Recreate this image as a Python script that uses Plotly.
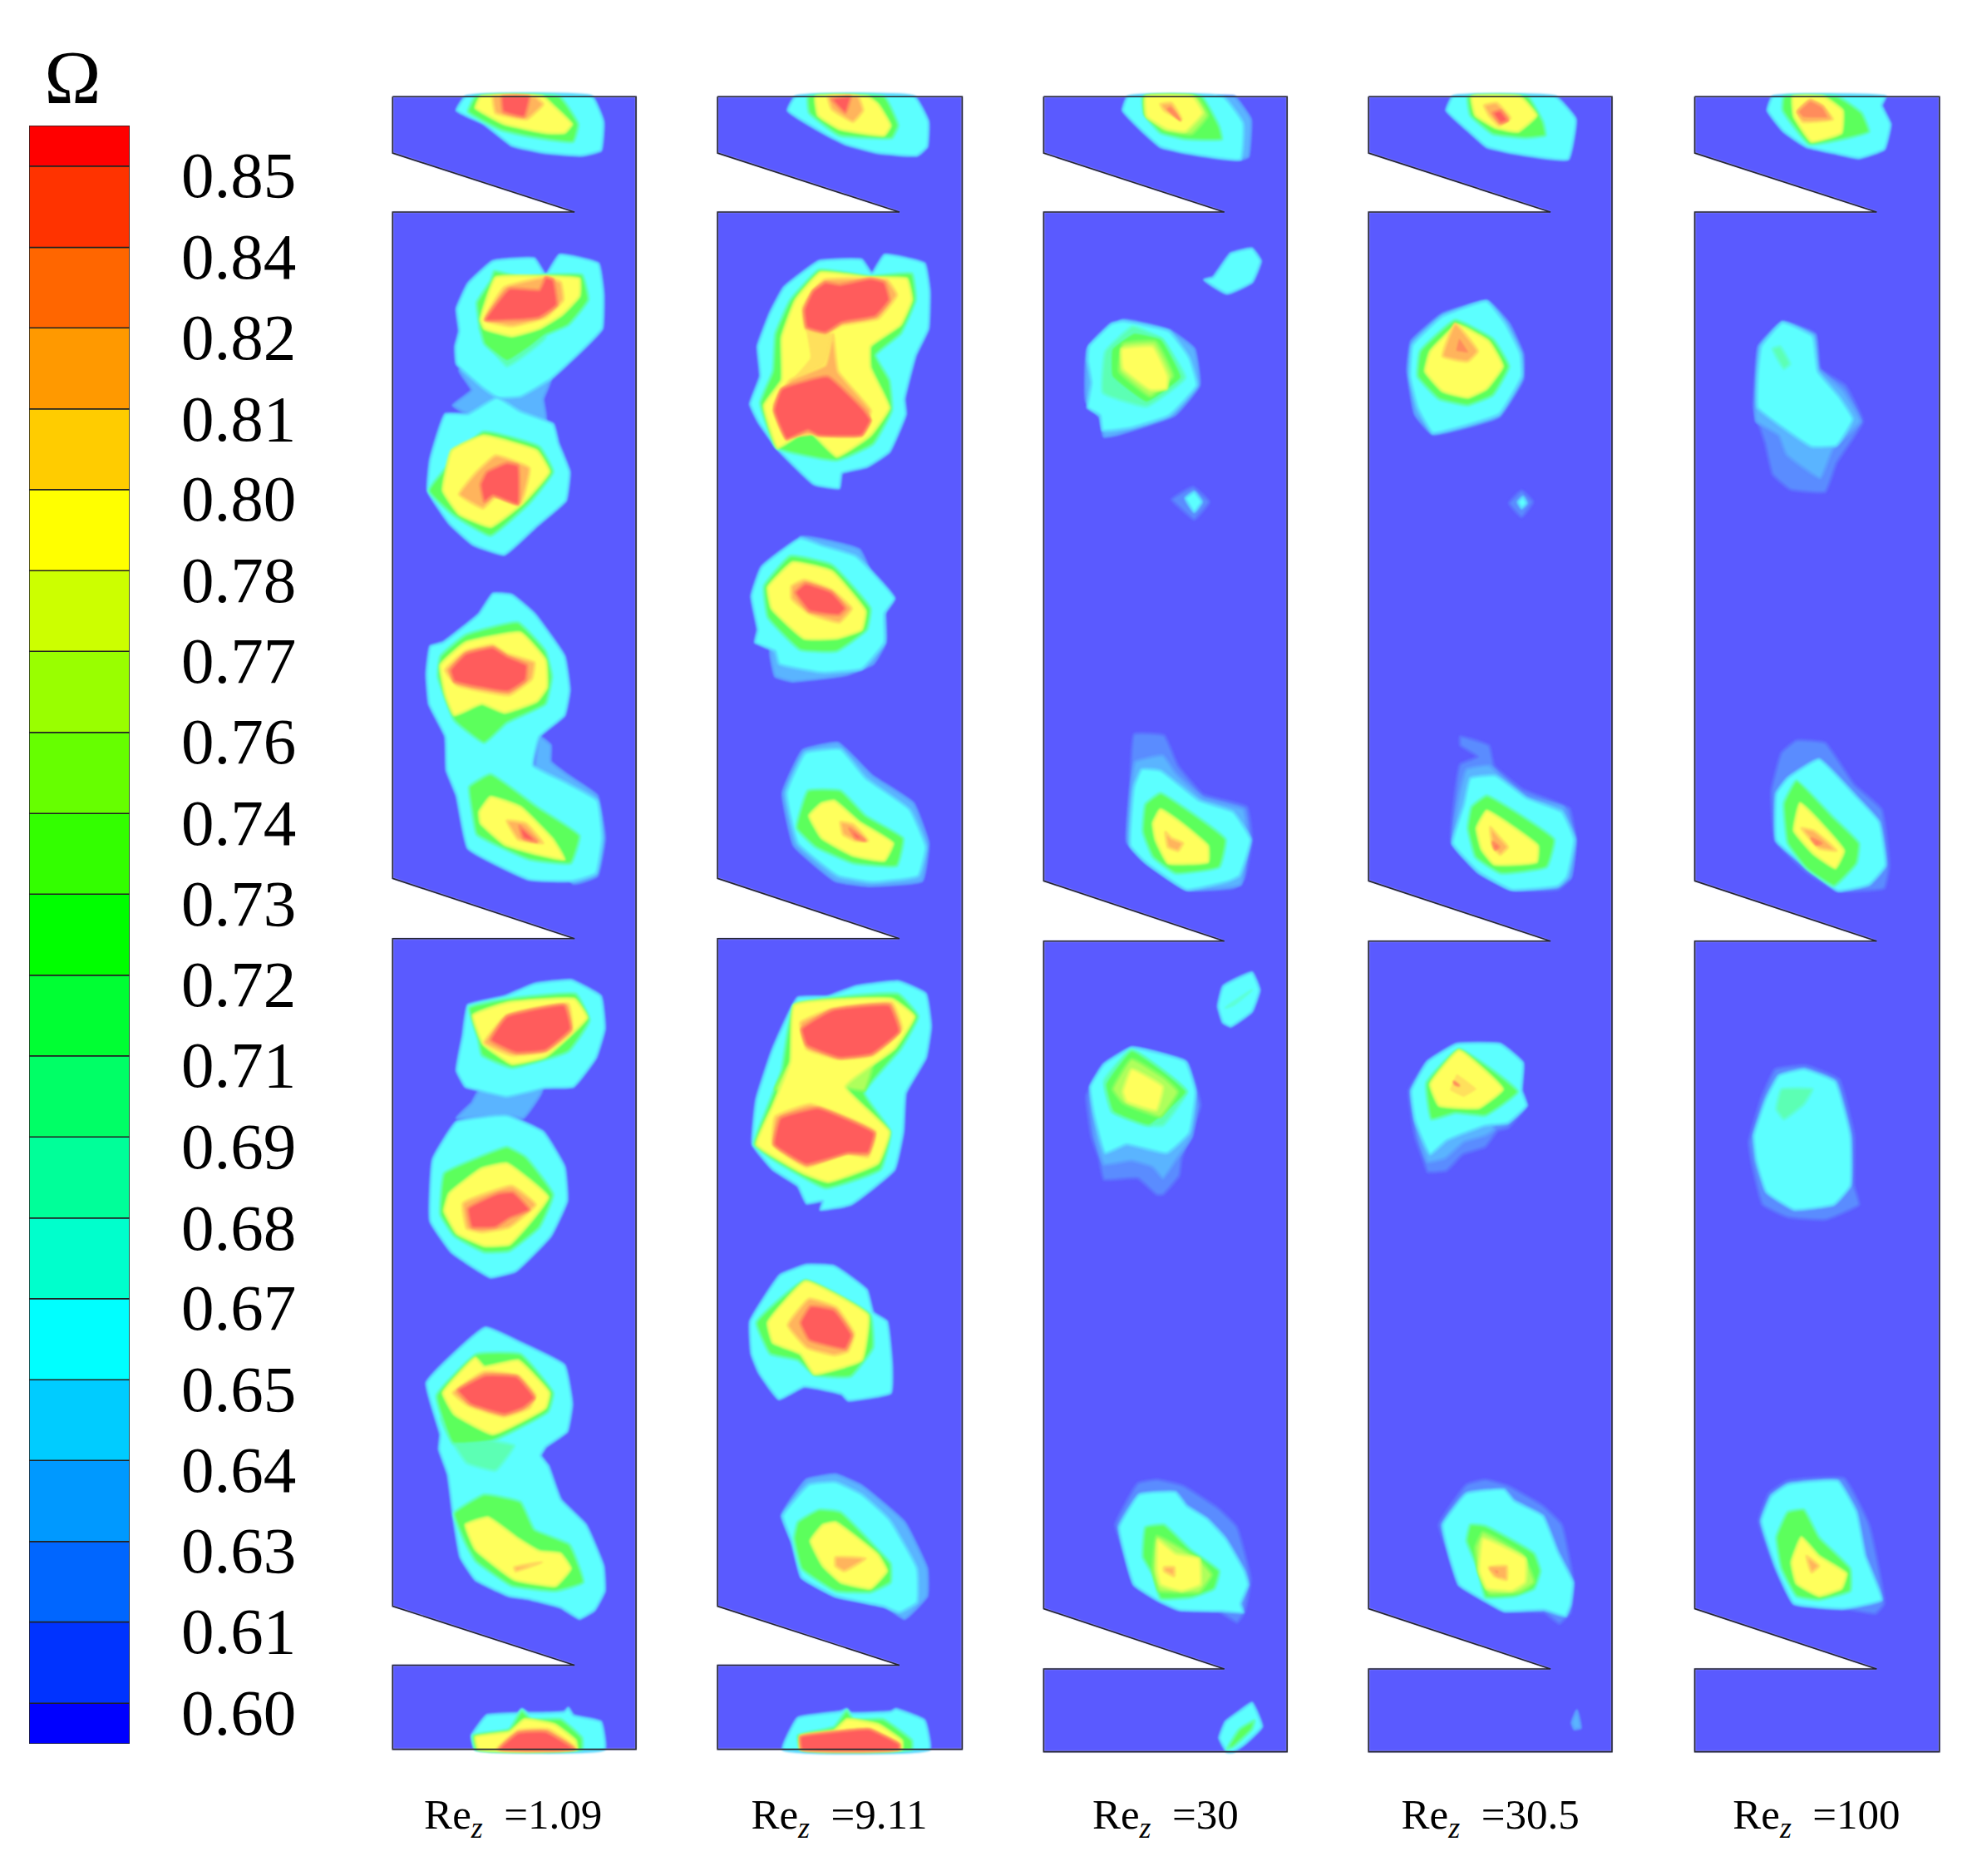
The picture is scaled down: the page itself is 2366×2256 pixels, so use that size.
import plotly.graph_objects as go

# colour bar
band_edges = [0.5934, 0.6000, 0.6132, 0.6263, 0.6395, 0.6526, 0.6658, 0.6789, 0.6921, 0.7053, 0.7184,
              0.7316, 0.7447, 0.7579, 0.7711, 0.7842, 0.7974, 0.8105, 0.8237, 0.8368, 0.8500, 0.8566]
band_colors = ["#0000ff", "#0033ff", "#0066ff", "#0099ff", "#00ccff", "#00ffff", "#00ffcc",
               "#00ff99", "#00ff66", "#00ff33", "#00ff00", "#33ff00", "#66ff00", "#99ff00",
               "#ccff00", "#ffff00", "#ffcc00", "#ff9900", "#ff6600", "#ff3300", "#ff0000"]
tick_labels = ["0.60", "0.61", "0.63", "0.64", "0.65", "0.67", "0.68", "0.69", "0.71", "0.72",
               "0.73", "0.74", "0.76", "0.77", "0.78", "0.80", "0.81", "0.82", "0.84", "0.85"]

# panels
re_labels = ["1.09", "9.11", "30", "30.5", "100"]
label_x = [409, 669, 929, 1188, 1448]
panel_left = [313, 572, 832, 1091, 1351]
panel_right = [507, 767, 1026, 1285, 1546]
notch_tip = [458, 717, 976, 1236, 1496]
notch_top = [[122, 700, 1280], [122, 700, 1280], [122, 702, 1282], [122, 702, 1282], [122, 702, 1282]]
notch_bottom = [[169, 748, 1327], [169, 748, 1327], [169, 750, 1330], [169, 750, 1330], [169, 750, 1330]]
panel_top = 77
panel_bottom = [1394, 1394, 1396, 1396, 1396]

level_colors = {0.63: "#5a8cff", 0.65: "#5ab4ff", 0.67: "#5cffff", 0.70: "#5cffb4", 0.73: "#5cff5c",
                0.76: "#aeff5c", 0.79: "#ffff5c", 0.80: "#ffe05c", 0.82: "#ffb45c", 0.83: "#ff8c5c", 0.85: "#ff5c5c"}
# edge of each ring, the band between it and the level below
edge_colors = {0.63: "#5a73ff", 0.65: "#5aa0ff", 0.67: "#5ad8ff", 0.70: "#5cffd8", 0.73: "#5cffb4",
               0.76: "#84ff5c", 0.79: "#d8ff5c", 0.80: "#ffff5c", 0.82: "#ffd85c", 0.83: "#ffb45c", 0.85: "#ff8c5c"}

# contour rings: level, x, y, x, y ...
rings_1 = [
    (0.67, [371,77,364,88,386,99,408,116,435,122,463,124,479,120,481,97,472,77]),
    (0.73, [379,77,373,89,400,104,422,109,457,113,461,99,446,77]),
    (0.79, [383,77,379,86,402,99,435,106,450,106,456,99,441,84,433,77]),
    (0.82, [393,77,395,90,420,95,433,83,426,77]),
    (0.85, [400,77,401,89,418,93,422,77]),
    (0.65, [366,295,376,311,361,323,373,330,435,335,433,318,439,302,408,290]),
    (0.67, [393,208,426,206,435,219,446,203,477,210,481,234,480,262,461,282,439,302,415,316,397,317,386,310,364,290,363,276,366,264,364,246,373,226]),
    (0.70, [382,261,404,292,435,269]),
    (0.73, [394,216,415,221,434,219,464,219,469,239,453,259,435,267,422,277,404,288,386,274,382,259,380,241,391,224]),
    (0.79, [395,221,433,220,462,222,462,236,448,251,430,262,408,268,386,262,383,255]),
    (0.82, [402,229,435,221,447,225,449,239,435,253,408,260,386,255]),
    (0.85, [406,230,430,231,435,221,441,223,444,243,430,253,411,255,387,255]),
    (0.67, [396,317,415,328,441,338,445,353,454,376,451,399,428,419,402,442,377,434,358,417,341,391,343,366,355,330,373,330]),
    (0.73, [385,344,430,356,441,376,422,401,391,427,362,411,342,391]),
    (0.79, [385,347,428,359,438,376,417,401,391,420,366,410,353,391,360,359]),
    (0.82, [395,363,422,373,415,401,395,396,385,405,366,394,380,376]),
    (0.85, [404,369,413,371,413,402,393,395,386,400,383,386,388,376]),
    (0.65, [430,587,439,594,439,607,453,618,476,634,482,668,476,698,457,704,425,650]),
    (0.67, [393,473,408,474,426,489,450,523,454,550,450,570,430,587,425,610,450,623,476,638,480,668,475,696,457,702,422,701,373,676,364,634,356,614,355,587,342,561,340,537,343,515,353,512,382,489]),
    (0.73, [351,523,371,506,413,496,435,519,440,539,435,561,404,576,386,592,362,574,349,539]),
    (0.79, [351,530,371,512,415,504,435,526,436,548,428,559,402,568,384,561,362,570,355,554]),
    (0.82, [355,534,371,519,393,514,404,521,426,528,424,541,406,554,364,546]),
    (0.85, [359,534,371,521,393,516,404,523,420,530,419,542,405,551,373,546,362,543]),
    (0.73, [374,627,391,617,428,643,462,666,455,688,422,685,380,665,376,645]),
    (0.79, [391,635,415,643,441,669,450,685,428,681,402,673,383,656,382,647]),
    (0.82, [404,654,419,656,433,672,413,669]),
    (0.85, [414,658,428,671,417,668]),
    (0.65, [376,879,364,891,404,889,417,891,432,869,382,869]),
    (0.67, [373,801,402,794,426,784,455,781,479,794,482,820,475,843,457,866,435,867,404,874,382,869,371,866,364,853,369,825]),
    (0.73, [374,803,404,796,459,792,470,813,453,838,408,851,384,841,381,828]),
    (0.79, [377,809,404,799,458,796,468,811,435,842,408,848,385,832]),
    (0.82, [386,831,404,809,453,800,456,822,435,838,408,841]),
    (0.85, [391,829,404,810,450,801,455,820,435,837,411,839]),
    (0.67, [404,889,433,902,450,930,452,957,439,985,411,1013,391,1018,382,1013,360,998,343,973,345,924,364,894]),
    (0.73, [404,914,419,922,441,952,430,978,406,997,386,998,362,985,351,968,354,935,382,922]),
    (0.79, [404,927,437,954,422,975,406,992,386,993,364,983,354,965,358,951,384,931]),
    (0.82, [369,959,408,945,427,960,406,978,384,982,372,979]),
    (0.85, [373,963,397,951,409,950,422,964,406,971,395,978,376,978]),
    (0.67, [387,1058,415,1070,450,1088,456,1119,452,1141,435,1153,431,1160,437,1168,447,1195,467,1215,481,1248,482,1268,474,1283,462,1290,447,1281,420,1274,406,1272,379,1259,367,1241,361,1206,357,1175,350,1155,351,1143,340,1102]),
    (0.70, [351,1130,361,1150,372,1166,395,1172,410,1152,393,1148]),
    (0.73, [380,1079,415,1079,441,1110,437,1125,393,1148,361,1150,348,1112]),
    (0.79, [379,1082,386,1089,413,1084,438,1110,435,1122,393,1143,362,1127,353,1110]),
    (0.82, [386,1093,413,1096,427,1112,422,1122,402,1129,373,1120,361,1110]),
    (0.85, [387,1096,412,1097,426,1114,417,1122,402,1127,375,1119,365,1108]),
    (0.73, [362,1206,386,1191,415,1197,426,1219,454,1231,465,1261,443,1268,408,1264,379,1244,371,1230]),
    (0.79, [371,1215,389,1209,413,1226,430,1236,447,1238,455,1250,443,1264,410,1259,379,1235]),
    (0.82, [410,1249,432,1245,411,1252]),
    (0.67, [379,1394,376,1383,388,1367,413,1365,416,1362,421,1365,450,1364,453,1361,457,1367,479,1372,482,1394]),
    (0.73, [377,1383,406,1378,416,1363,423,1370,447,1370,464,1385,464,1394,379,1394]),
    (0.79, [379,1384,406,1380,418,1370,442,1374,459,1387,460,1394,381,1394]),
    (0.82, [396,1394,413,1379,437,1378,459,1393]),
    (0.85, [398,1394,413,1381,435,1380,458,1394]),
]

rings_2 = [
    (0.67, [634,77,628,88,658,107,674,115,700,122,731,124,739,117,740,97,729,77]),
    (0.73, [644,77,645,90,669,108,711,110,716,100,705,77]),
    (0.79, [650,77,652,92,669,103,705,108,710,100,700,83,692,77]),
    (0.82, [660,77,663,87,680,97,688,88,684,77]),
    (0.85, [663,79,674,90,678,77]),
    (0.67, [653,208,687,207,695,218,705,203,737,210,741,232,740,262,730,283,721,318,722,330,709,360,691,372,671,377,669,389,649,386,621,359,605,337,598,322,606,300,604,276,614,249,625,229]),
    (0.73, [653,215,693,220,727,218,730,239,718,266,698,283,709,303,711,327,696,354,667,367,619,357,606,321,616,296,618,266,630,239]),
    (0.79, [654,217,693,221,723,222,727,239,718,259,694,276,694,293,709,325,694,347,667,364,644,343,620,357,609,323,623,303,623,269,634,239]),
    (0.80, [641,256,664,266,658,291,630,303,645,285]),
    (0.82, [664,266,668,296,694,327,691,337,630,347,617,323,630,303,658,291]),
    (0.82, [657,223,694,222,707,223,715,235,700,254,671,259,658,266,642,262,640,245,648,232]),
    (0.85, [658,225,669,227,694,222,705,225,709,239,698,252,671,257,658,265,643,261,641,247,648,232]),
    (0.85, [660,300,689,327,694,335,687,347,652,347,644,343,627,350,617,327,623,310]),
    (0.65, [614,519,618,539,632,543,674,538,696,529,706,512,705,485,685,438,656,430,638,428,630,472]),
    (0.67, [638,429,656,435,682,443,713,477,705,489,705,512,687,533,656,536,621,529,618,519,602,512,604,502,599,475,607,452]),
    (0.73, [630,443,663,450,694,485,691,502,667,519,638,518,612,492,609,467]),
    (0.79, [632,448,663,455,690,487,687,502,667,509,641,509,615,485,612,468]),
    (0.82, [641,462,663,470,679,485,669,496,645,489,631,477,631,467]),
    (0.85, [642,465,663,472,674,485,669,490,645,487,634,472]),
    (0.65, [640,598,668,592,695,618,728,640,740,672,735,702,692,706,666,702,633,674,624,632]),
    (0.67, [642,600,670,597,690,620,725,645,738,675,732,698,695,703,668,698,636,672,627,632]),
    (0.73, [644,630,670,630,690,650,720,668,715,690,680,688,650,675,635,660]),
    (0.79, [655,640,665,638,685,655,712,672,705,686,680,682,655,668,645,650]),
    (0.82, [670,655,680,657,692,670,682,670,672,665]),
    (0.85, [677,660,690,670,682,668]),
    (0.67, [636,795,660,794,682,786,716,782,738,792,742,818,738,843,722,871,720,902,713,932,678,960,654,964,656,957,643,959,636,945,616,932,600,912,603,876,616,836]),
    (0.73, [633,801,716,792,732,810,718,836,689,871,710,902,702,932,658,947,616,924,601,912,611,884,623,853]),
    (0.79, [633,801,711,796,729,810,713,836,674,866,709,902,700,927,660,942,640,935,603,912,616,881,630,846]),
    (0.76, [618,868,628,850,630,872]),
    (0.76, [671,866,696,848,689,869]),
    (0.82, [638,815,663,804,711,799,719,820,696,841,669,844,643,836]),
    (0.85, [639,820,663,805,709,801,717,822,695,840,669,843,643,833]),
    (0.82, [646,880,698,902,692,922,674,919,643,930,616,912,618,890]),
    (0.85, [652,883,697,903,692,919,676,919,643,928,617,912,622,891]),
    (0.67, [643,1008,665,1009,691,1028,696,1046,707,1053,711,1089,710,1110,676,1116,671,1111,641,1105,621,1115,605,1094,599,1079,598,1053,622,1016]),
    (0.73, [642,1020,694,1048,696,1074,678,1097,649,1096,636,1084,614,1079,603,1054]),
    (0.79, [642,1021,692,1048,687,1084,649,1095,638,1079,616,1070,612,1054]),
    (0.82, [645,1035,667,1042,681,1063,676,1077,665,1080,643,1074,628,1056]),
    (0.85, [646,1041,665,1044,679,1064,674,1075,645,1068,638,1054]),
    (0.65, [643,1179,666,1175,687,1184,721,1213,739,1250,739,1272,721,1290,707,1281,666,1272,639,1257,633,1232,623,1208]),
    (0.67, [645,1183,666,1181,687,1191,709,1211,731,1250,731,1277,717,1285,704,1280,666,1272,639,1257,631,1228,624,1208]),
    (0.73, [636,1213,653,1203,670,1205,700,1235,710,1246,710,1261,694,1269,666,1268,639,1250,633,1226]),
    (0.79, [656,1215,666,1213,700,1239,707,1252,694,1266,670,1261,656,1248,646,1228]),
    (0.82, [666,1241,690,1242,673,1252,666,1248]),
    (0.67, [624,1394,636,1369,670,1364,675,1362,678,1365,710,1364,714,1362,737,1371,741,1394]),
    (0.73, [636,1383,665,1376,675,1363,680,1370,704,1370,727,1387,727,1394,638,1394]),
    (0.79, [638,1383,665,1379,675,1370,700,1374,719,1387,719,1394,638,1394]),
    (0.85, [638,1384,666,1380,693,1378,717,1390,717,1394,639,1394]),
]

rings_3 = [
    (0.65, [970,77,984,77,997,95,995,125,989,127,960,122,985,100]),
    (0.67, [899,77,895,88,910,104,925,117,945,122,989,127,991,98,975,77]),
    (0.73, [911,77,912,91,925,106,945,111,974,111,972,101,958,77]),
    (0.76, [913,77,913,91,928,104,950,107,963,92,954,77]),
    (0.79, [913,77,914,93,930,103,945,105,959,90,951,77]),
    (0.82, [925,83,934,82,942,95,928,88]),
    (0.85, [931,87,933,86,941,96]),
    (0.67, [998,198,1005,208,998,225,978,234,960,223,967,221,981,202]),
    (0.65, [895,255,932,263,952,278,956,307,936,331,888,347,880,348,877,333,866,320,867,278]),
    (0.67, [895,256,932,264,948,285,954,307,932,331,901,341,879,343,877,331,867,325,870,305,867,287,868,276,886,258]),
    (0.70, [903,260,926,270,945,301,914,324,879,313,881,280]),
    (0.73, [904,265,926,270,942,301,914,321,886,300,886,278]),
    (0.76, [895,274,921,272,935,300,917,316,892,296]),
    (0.79, [894,278,919,276,931,300,930,310,917,311,895,294]),
    (0.63, [934,398,951,388,964,400,952,414,942,406]),
    (0.67, [945,397,952,392,958,400,952,408]),
    (0.63, [904,585,928,586,939,610,959,633,994,643,998,669,992,700,983,708,946,709,910,685,898,671,901,623]),
    (0.65, [905,607,927,602,937,616,959,636,991,645,995,669,989,705,946,709,913,687,899,671,902,623]),
    (0.67, [910,613,925,614,956,638,983,647,997,669,988,698,980,702,946,709,913,687,901,674,904,627]),
    (0.73, [925,632,943,643,977,669,972,691,937,696,919,683,911,663,913,641]),
    (0.79, [925,645,942,656,963,674,963,687,931,688,921,669,919,656]),
    (0.82, [929,663,934,668,943,672,939,678,931,675]),
    (0.67, [998,775,1004,789,998,806,981,818,975,815,971,802,975,786]),
    (0.70, [977,803,998,789,983,801]),
    (0.63, [880,940,876,923,870,906,866,873,880,850,902,835,946,846,957,881,942,923,940,937,927,952,922,952,907,939]),
    (0.65, [880,928,902,925,919,930,927,939,937,925,950,906,954,881,946,848,902,835,870,873,873,906]),
    (0.67, [881,919,898,912,930,919,948,903,953,870,945,846,902,835,880,848,869,866,872,888]),
    (0.70, [902,837,880,861,886,886,916,897,927,897,946,870]),
    (0.73, [902,837,881,864,887,886,916,897,946,870]),
    (0.76, [902,844,928,859,939,870,925,890,895,879,887,868]),
    (0.79, [902,852,927,866,922,885,898,878,895,870]),
    (0.63, [907,1182,922,1179,943,1184,971,1202,986,1217,997,1259,992,1285,986,1293,971,1284,940,1283,924,1276,904,1263,896,1237,889,1215]),
    (0.67, [908,1191,937,1189,946,1200,962,1210,977,1226,992,1252,995,1263,989,1278,991,1285,974,1284,940,1283,924,1276,904,1263,896,1237,892,1217]),
    (0.73, [913,1217,928,1215,949,1235,972,1252,968,1266,950,1273,925,1274,919,1255,911,1241]),
    (0.76, [922,1224,956,1243,966,1255,956,1269,937,1269,924,1268,919,1252]),
    (0.79, [923,1227,937,1238,956,1242,957,1263,942,1268,925,1263,922,1252]),
    (0.82, [928,1249,936,1249,936,1256,928,1252]),
    (0.67, [998,1357,1006,1376,992,1390,983,1396,978,1396,972,1385,977,1372,989,1363]),
    (0.73, [978,1394,988,1378,1000,1371,998,1378,983,1392]),
]

rings_4 = [
    (0.67, [1158,77,1153,88,1170,104,1185,117,1205,122,1250,127,1256,95,1240,77]),
    (0.73, [1170,77,1172,92,1190,107,1215,110,1232,108,1230,97,1218,77]),
    (0.79, [1173,77,1176,92,1192,102,1210,105,1225,92,1212,77]),
    (0.82, [1183,84,1193,82,1204,94,1195,100,1187,92]),
    (0.85, [1190,90,1196,88,1202,96,1196,98]),
    (0.65, [1186,240,1203,258,1214,282,1214,302,1195,332,1142,346,1128,330,1122,295,1125,272,1150,250]),
    (0.67, [1185,240,1200,258,1212,282,1213,300,1195,330,1165,340,1142,345,1130,325,1124,300,1126,275,1150,252]),
    (0.73, [1160,255,1190,270,1203,292,1190,315,1170,323,1147,318,1130,300,1132,280]),
    (0.79, [1162,259,1187,272,1198,292,1185,310,1170,317,1150,312,1136,296,1140,280]),
    (0.82, [1160,258,1178,280,1170,288,1150,284]),
    (0.83, [1163,268,1172,282,1160,280]),
    (0.63, [1203,401,1213,391,1222,400,1213,412]),
    (0.67, [1210,400,1214,396,1217,401,1213,405]),
    (0.63, [1164,587,1187,594,1191,610,1214,629,1251,644,1256,669,1252,700,1242,709,1205,709,1178,695,1157,672,1164,609,1178,603,1164,594]),
    (0.65, [1169,613,1187,610,1196,618,1217,635,1246,643,1256,669,1252,699,1242,707,1205,709,1178,695,1158,672,1164,630]),
    (0.67, [1172,620,1192,618,1217,636,1245,647,1255,669,1249,699,1242,706,1205,709,1179,695,1158,672,1167,641]),
    (0.73, [1185,634,1205,645,1239,669,1233,691,1196,696,1176,683,1170,660,1173,643]),
    (0.79, [1185,646,1202,656,1226,674,1225,687,1191,689,1181,677,1177,660]),
    (0.82, [1188,659,1195,667,1202,675,1196,681,1190,675]),
    (0.85, [1190,671,1195,675,1192,677]),
    (0.63, [1138,934,1135,926,1128,906,1123,869,1138,846,1161,834,1196,833,1214,849,1211,872,1217,881,1202,899,1194,901,1184,914,1166,920,1153,933]),
    (0.65, [1138,926,1152,923,1167,910,1184,905,1191,900,1161,834,1126,869,1131,906]),
    (0.67, [1140,920,1153,909,1184,897,1202,895,1217,881,1213,869,1214,847,1196,832,1161,832,1138,846,1125,869,1128,893]),
    (0.73, [1163,836,1210,870,1184,889,1160,887,1141,892,1137,863]),
    (0.79, [1163,837,1198,868,1179,883,1147,881,1140,864]),
    (0.80, [1161,855,1178,868,1167,875,1155,869]),
    (0.85, [1159,862,1163,865,1160,864]),
    (0.63, [1169,1183,1184,1179,1202,1184,1230,1200,1245,1215,1254,1259,1252,1285,1243,1294,1231,1285,1199,1284,1184,1276,1163,1263,1155,1239,1147,1215]),
    (0.67, [1169,1190,1199,1187,1207,1196,1230,1208,1242,1237,1254,1261,1252,1279,1248,1288,1231,1283,1199,1284,1184,1276,1163,1263,1155,1239,1150,1215]),
    (0.73, [1172,1215,1184,1216,1223,1238,1228,1252,1223,1266,1208,1272,1184,1273,1178,1250,1169,1228]),
    (0.76, [1182,1221,1214,1239,1223,1261,1211,1269,1187,1270,1178,1251,1176,1233]),
    (0.79, [1182,1226,1216,1242,1216,1261,1205,1268,1185,1266,1179,1252]),
    (0.82, [1187,1249,1201,1248,1201,1259,1191,1256]),
    (0.83, [1188,1250,1195,1251,1195,1256]),
    (0.65, [1257,1363,1260,1377,1255,1378,1253,1373]),
]

rings_5 = [
    (0.67, [1413,77,1409,88,1422,105,1440,117,1462,122,1482,126,1502,119,1507,99,1500,84,1503,77]),
    (0.73, [1422,77,1421,88,1442,115,1469,111,1490,105,1484,90,1465,77]),
    (0.79, [1429,77,1430,93,1444,113,1468,106,1469,88,1454,77]),
    (0.82, [1433,89,1443,80,1453,85,1461,95,1437,97]),
    (0.83, [1433,89,1443,80,1453,85,1458,94,1437,94]),
    (0.63, [1421,256,1447,266,1451,294,1471,307,1485,336,1464,369,1455,392,1427,390,1413,378,1407,353,1398,325,1402,276]),
    (0.65, [1421,257,1447,267,1450,294,1469,311,1483,336,1461,358,1451,381,1424,362,1418,347,1400,336,1399,325,1402,276]),
    (0.67, [1421,257,1445,268,1449,296,1466,316,1477,334,1464,355,1444,356,1420,340,1401,325,1401,300,1404,276]),
    (0.70, [1413,278,1419,276,1427,290,1422,294]),
    (0.63, [1432,590,1455,592,1478,625,1500,645,1506,690,1502,708,1465,710,1440,695,1415,670,1412,630,1420,600]),
    (0.67, [1425,620,1450,605,1480,635,1498,655,1503,690,1490,705,1465,710,1445,695,1416,670,1416,632]),
    (0.73, [1432,622,1460,650,1482,672,1480,688,1462,706,1440,692,1425,672,1422,640]),
    (0.79, [1435,640,1470,678,1463,692,1445,680,1430,662]),
    (0.82, [1436,660,1446,662,1464,678,1450,676]),
    (0.85, [1444,668,1452,672,1448,673]),
    (0.63, [1415,852,1440,849,1466,860,1478,905,1478,945,1482,960,1455,972,1425,970,1405,960,1396,925,1394,910,1404,875]),
    (0.67, [1418,857,1438,852,1463,862,1475,905,1475,945,1462,960,1430,964,1408,950,1400,925,1398,905,1408,875]),
    (0.70, [1420,868,1445,868,1438,880,1422,892,1416,884]),
    (0.63, [1410,1190,1425,1180,1470,1178,1490,1215,1502,1278,1495,1286,1470,1282,1430,1278,1415,1250,1402,1212]),
    (0.67, [1412,1192,1425,1183,1465,1180,1480,1205,1487,1240,1500,1275,1470,1282,1430,1278,1416,1250,1404,1212]),
    (0.73, [1425,1205,1438,1203,1450,1225,1475,1250,1475,1268,1450,1275,1432,1272,1420,1250,1416,1225]),
    (0.79, [1436,1225,1450,1240,1472,1254,1468,1266,1450,1272,1432,1262,1428,1245]),
    (0.82, [1440,1240,1450,1248,1444,1253]),
]

all_rings = [rings_1, rings_2, rings_3, rings_4, rings_5]

W, H = 2366, 2256
serif = "Liberation Serif"

fig = go.Figure()

# colour bar on its own value axis
fig.add_trace(go.Bar(
    x=[0] * len(band_colors),
    base=band_edges[:-1],
    y=[hi - lo for lo, hi in zip(band_edges[:-1], band_edges[1:])],
    width=1,
    marker=dict(color=band_colors, line=dict(color="#222222", width=1.5)),
    xaxis="x", yaxis="y",
))

for i in range(5):
    l, r, tip = panel_left[i], panel_right[i], notch_tip[i]
    xs = [l, r, r, l]
    ys = [panel_top, panel_top, panel_bottom[i], panel_bottom[i]]
    for nt, nb in zip(reversed(notch_top[i]), reversed(notch_bottom[i])):
        xs += [l, tip, l]
        ys += [nb, nb, nt]
    xs.append(l)
    ys.append(panel_top)
    fig.add_trace(go.Scatter(
        x=xs, y=ys, mode="lines", fill="toself", fillcolor="#5a5aff",
        line=dict(width=0),
        xaxis="x2", yaxis="y2",
    ))
    # lowest levels first so the higher ones sit on top
    for level, pts in sorted(all_rings[i], key=lambda r: r[0]):
        fig.add_trace(go.Scatter(
            x=pts[0::2] + pts[:1], y=pts[1::2] + pts[1:2],
            mode="lines", fill="toself", fillcolor=level_colors[level],
            line=dict(color=edge_colors[level], width=3, shape="spline", smoothing=0.35),
            xaxis="x2", yaxis="y2",
        ))
    # panel outline on top, kept sharp
    fig.add_trace(go.Scatter(
        x=xs, y=ys, mode="lines",
        line=dict(color="#26262e", width=1.6),
        xaxis="x2", yaxis="y2",
    ))

fig.add_trace(go.Scatter(
    x=label_x, y=[1449] * 5, mode="text",
    text=["Re<sub><i>z</i></sub>\u00a0\u00a0=" + v for v in re_labels],
    textfont=dict(family=serif, size=51, color="black"),
    xaxis="x2", yaxis="y2",
))
fig.add_trace(go.Scatter(
    x=[58], y=[67], mode="text", text=["Ω"],
    textfont=dict(family=serif, size=92, color="black"),
    xaxis="x2", yaxis="y2",
))

fig.update_layout(
    width=W, height=H,
    autosize=False,
    margin=dict(l=0, r=0, t=0, b=0),
    paper_bgcolor="white",
    plot_bgcolor="rgba(0,0,0,0)",
    showlegend=False,
    barmode="overlay",
    xaxis=dict(domain=[35 / W, 156 / W], range=[-0.5, 0.5], visible=False, automargin=False),
    yaxis=dict(
        domain=[1 - 2097 / H, 1 - 151 / H],
        range=[band_edges[0], band_edges[-1]],
        side="right",
        automargin=False,
        tickmode="array",
        tickvals=band_edges[1:-1],
        ticktext=tick_labels,
        tickfont=dict(family=serif, size=79, color="black"),
        ticks="",
        ticklabelstandoff=61,
        ticklabelshift=10,
        showgrid=False, zeroline=False, showline=False,
    ),
    xaxis2=dict(domain=[0, 1], range=[0, 1568], visible=False, anchor="y2", automargin=False),
    yaxis2=dict(domain=[0, 1], range=[1495, 0], visible=False, anchor="x2", automargin=False),
)

# the source figure is a soft raster, so take the hard edge off the contour fills
soften = """
document.body.style.margin = '0';
document.querySelectorAll('.scatterlayer .trace').forEach(function (t) {
    if (t.querySelector('.js-fill')) { t.style.filter = 'blur(1.3px)'; }
});
"""
fig.write_html("out.html", config={"displayModeBar": False}, post_script=soften)
